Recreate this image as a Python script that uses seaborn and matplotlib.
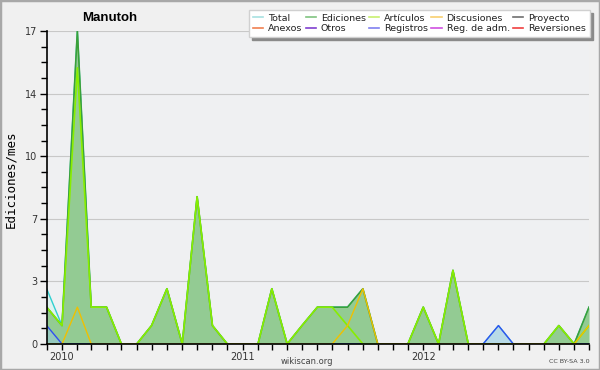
import numpy as np
import pandas as pd
import seaborn as sns
import matplotlib
matplotlib.use("Agg")
import matplotlib.pyplot as plt
import matplotlib.dates as mdates
from matplotlib.lines import Line2D
from matplotlib.patches import Rectangle
from matplotlib.ticker import FixedLocator, FuncFormatter, AutoMinorLocator

# --- data: monthly edits, Dec 2009 .. Dec 2012 ---
months = pd.date_range("2009-12-01", "2012-12-01", freq="MS")
ediciones = [2, 1, 17, 2, 2, 0, 0, 1, 3, 0, 8, 1, 0, 0, 0, 3, 0, 1, 2, 2, 2, 3, 0, 0, 0,
             2, 0, 4, 0, 0, 0, 0, 0, 0, 1, 0, 2]
articulos = [2, 1, 15, 2, 2, 0, 0, 1, 3, 0, 8, 1, 0, 0, 0, 3, 0, 1, 2, 2, 1, 0, 0, 0, 0,
             2, 0, 4, 0, 0, 0, 0, 0, 0, 1, 0, 1]
discusiones = [0, 0, 2, 0, 0, 0, 0, 0, 0, 0, 0, 0, 0, 0, 0, 0, 0, 0, 0, 0, 1, 3, 0, 0, 0,
               0, 0, 0, 0, 0, 0, 0, 0, 0, 0, 0, 1]
registros = [1, 0, 0, 0, 0, 0, 0, 0, 0, 0, 0, 0, 0, 0, 0, 0, 0, 0, 0, 0, 0, 0, 0, 0, 0,
             0, 0, 0, 0, 0, 1, 0, 0, 0, 0, 0, 0]
total = [3, 1, 17, 2, 2, 0, 0, 1, 3, 0, 8, 1, 0, 0, 0, 3, 0, 1, 2, 2, 2, 3, 0, 0, 0,
         2, 0, 4, 0, 0, 1, 0, 0, 0, 1, 0, 2]
zeros = [0] * len(months)

legend_names = ["Total", "Anexos", "Ediciones", "Otros", "Artículos", "Registros",
                "Discusiones", "Reg. de adm.", "Proyecto", "Reversiones"]
legend_colors = ["#a8e2e2", "#f08050", "#80c480", "#8040d0", "#c8f070", "#8080f0",
                 "#f8d070", "#d050e0", "#707070", "#f04040"]

y_max = 17

plt.rcParams["font.family"] = ["DejaVu Sans"]
fig = plt.figure(figsize=(6, 3.7), dpi=100, facecolor="#f0f0f0")
ax = fig.add_axes([0.0778, 0.0703, 0.9039, 0.8459])
ax.set_facecolor("#eff0f2")

# fills
ax.fill_between(months, total, color="#dff3f0", lw=0, zorder=1)
ax.fill_between(months, ediciones, color="#93cb93", lw=0, zorder=2)
ax.fill_between(months, registros, color="#98c8e0", alpha=0.55, lw=0, zorder=3)

# lines
for vals, col, lw, z in [(zeros, "#707070", 0.8, 1.5),
                         (total, "#30d0d0", 1.0, 1.6),
                         (ediciones, "#3aa03a", 1.2, 2.5),
                         (registros, "#3050f0", 1.0, 3.5),
                         (articulos, "#88ee00", 1.2, 4),
                         (discusiones, "#f0c000", 1.0, 5)]:
    sns.lineplot(x=months, y=vals, ax=ax, color=col, lw=lw, zorder=z)

ax.set_xlim(months[0], months[-1])
ax.set_ylim(0, y_max)

# y axis
ax.yaxis.set_major_locator(FixedLocator(np.linspace(0, y_max, 6)))
ax.yaxis.set_major_formatter(FuncFormatter(lambda v, p: f"{round(v):d}"))
ax.yaxis.set_minor_locator(AutoMinorLocator(4))
ax.grid(axis="y", which="major", color="#c8c8c8", lw=0.8, zorder=0)
ax.set_axisbelow(True)

# x axis
ax.xaxis.set_major_locator(mdates.YearLocator())
ax.xaxis.set_major_formatter(mdates.DateFormatter("%Y"))
ax.xaxis.set_minor_locator(mdates.MonthLocator())
ax.tick_params(axis="both", which="both", direction="out", color="black", width=1)
ax.tick_params(axis="x", which="both", length=4, labelsize=7, pad=1.5, labelcolor="#333333")
ax.tick_params(axis="y", which="major", length=5, labelsize=7, pad=1.5, labelcolor="#333333")
ax.tick_params(axis="y", which="minor", length=4)
ax.set_xlabel("")
ax.set_ylabel("")
fig.text(11 / 600, 0.515, "Ediciones/mes", family="DejaVu Sans Mono", fontsize=9,
         rotation=90, ha="center", va="center")

for s in ["top", "right"]:
    ax.spines[s].set_visible(False)
for s in ["left", "bottom"]:
    ax.spines[s].set_color("black")
    ax.spines[s].set_linewidth(1.2)
    ax.spines[s].set_zorder(10)

# legend
handles = [Line2D([0], [0], color=c, lw=1.2) for c in legend_colors]
leg = fig.legend(handles, legend_names, ncol=5, loc="upper right",
                 bbox_to_anchor=(0.983, 0.973), fontsize=6.8, frameon=True,
                 fancybox=False, shadow={"color": "#8a8a8a", "alpha": 1},
                 framealpha=1, edgecolor="#d0d0d0", handlelength=1.1,
                 handletextpad=0.5, columnspacing=0.35, labelspacing=0.15,
                 borderpad=0.4, borderaxespad=0)
for t in leg.get_texts():
    t.set_color("#222222")

fig.text(0.183, 0.952, "Manutoh", family="Liberation Sans", fontsize=9.5,
         fontweight="bold", ha="center", va="center")
fig.text(0.512, 0.024, "wikiscan.org", fontsize=6, color="#444444", ha="center", va="center")
fig.text(0.983, 0.022, "CC BY-SA 3.0", fontsize=4.6, color="#444444", ha="right", va="center")

fig.patches.append(Rectangle((0, 0), 1, 1, transform=fig.transFigure, fill=False,
                             edgecolor="#a8a8a8", lw=2.5))

fig.savefig("out.png", dpi=100, facecolor=fig.get_facecolor())
